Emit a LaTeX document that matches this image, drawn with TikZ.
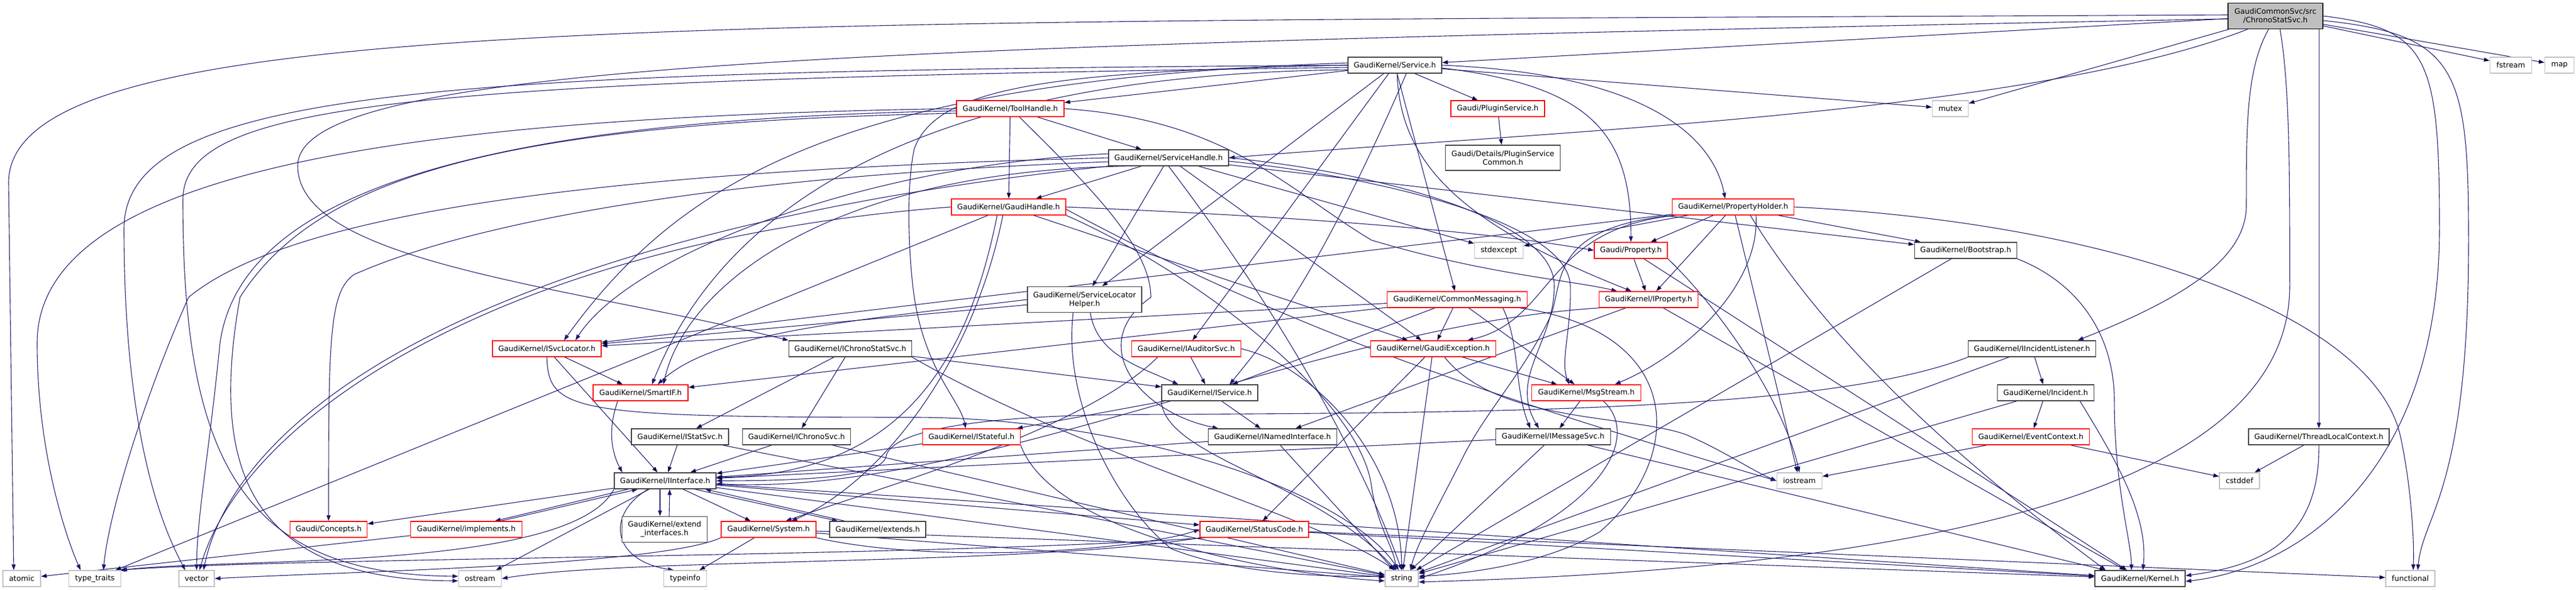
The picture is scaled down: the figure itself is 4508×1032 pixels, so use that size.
\documentclass[tikz,border=0pt]{standalone}
\usepackage{fontspec}
\setmainfont{DejaVu Sans}
\usetikzlibrary{arrows.meta}
\pgfdeclarelayer{bg}
\pgfsetlayers{bg,main}

\definecolor{edgeblue}{HTML}{191970}
\definecolor{hdrred}{HTML}{FF0000}
\definecolor{hdrgray}{HTML}{BFBFBF}
\definecolor{hdrdark}{HTML}{404040}

\tikzset{
  hdr/.style={draw=hdrdark, line width=1.4pt, fill=white, inner sep=0pt,
    minimum height=28pt, align=center, font=\fontsize{13}{15}\selectfont},
  hdrtrunc/.style={hdr, draw=hdrred},
  hdrsys/.style={hdr, draw=hdrgray},
  rootnode/.style={hdr, draw=black, fill=hdrgray},
  incl/.style={draw=edgeblue, line width=1.1pt, -{Triangle[length=10pt,width=7pt]}},
}

\begin{document}
\begin{tikzpicture}[x=1pt,y=-1pt]
\useasboundingbox (0,0) rectangle (4508,1032);

% The file itself
\node[rootnode, minimum width=166pt, minimum height=45pt] (root) at (3982,28) {GaudiCommonSvc/src\\/ChronoStatSvc.h};

% Rank 2 and 3
\node[hdr, minimum width=164pt] (service) at (2441,114) {GaudiKernel/Service.h};
\node[hdrsys, minimum width=73pt] (fstream) at (4394,114) {fstream};
\node[hdrsys, minimum width=51pt] (map) at (4479,114) {map};
\node[hdrtrunc, minimum width=188pt] (toolh) at (1768,190) {GaudiKernel/ToolHandle.h};
\node[hdrtrunc, minimum width=164pt] (plugin) at (2621,190) {Gaudi/PluginService.h};
\node[hdrsys, minimum width=63pt] (mutex) at (3413,190) {mutex};

% Handles and properties
\node[hdr, minimum width=210pt] (svch) at (2045,276) {GaudiKernel/ServiceHandle.h};
\node[hdr, minimum width=201pt, minimum height=44pt] (plugcom) at (2630,276) {Gaudi/Details/PluginService\\Common.h};
\node[hdrtrunc, minimum width=200pt] (gaudih) at (1765,362) {GaudiKernel/GaudiHandle.h};
\node[hdrtrunc, minimum width=213pt] (propholder) at (3033,362) {GaudiKernel/PropertyHolder.h};
\node[hdrsys, minimum width=85pt] (stdexcept) at (2623,438) {stdexcept};
\node[hdrtrunc, minimum width=128pt] (prop) at (2854,438) {Gaudi/Property.h};
\node[hdr, minimum width=179pt] (boot) at (3440,438) {GaudiKernel/Bootstrap.h};
\node[hdr, minimum width=200pt, minimum height=45pt] (slh) at (1898,524) {GaudiKernel/ServiceLocator\\Helper.h};
\node[hdrtrunc, minimum width=245pt] (commsg) at (2550,524) {GaudiKernel/CommonMessaging.h};
\node[hdrtrunc, minimum width=173pt] (iprop) at (2885,524) {GaudiKernel/IProperty.h};

% Interfaces
\node[hdrtrunc, minimum width=190pt] (isvcloc) at (957,610) {GaudiKernel/ISvcLocator.h};
\node[hdr, minimum width=215pt] (ichronostat) at (1488,610) {GaudiKernel/IChronoStatSvc.h};
\node[hdrtrunc, minimum width=191pt] (iaud) at (2076,610) {GaudiKernel/IAuditorSvc.h};
\node[hdrtrunc, minimum width=219pt] (gexc) at (2508,610) {GaudiKernel/GaudiException.h};
\node[hdr, minimum width=223pt] (iinclist) at (3556,610) {GaudiKernel/IIncidentListener.h};
\node[hdrtrunc, minimum width=166pt] (smartif) at (1121,687) {GaudiKernel/SmartIF.h};
\node[hdr, minimum width=168pt] (iservice) at (2117,687) {GaudiKernel/IService.h};
\node[hdrtrunc, minimum width=191pt] (msgstream) at (2776,687) {GaudiKernel/MsgStream.h};
\node[hdr, minimum width=169pt] (incident) at (3580,687) {GaudiKernel/Incident.h};
\node[hdr, minimum width=170pt] (istat) at (1190,764) {GaudiKernel/IStatSvc.h};
\node[hdr, minimum width=189pt] (ichrono) at (1394,764) {GaudiKernel/IChronoSvc.h};
\node[hdrtrunc, minimum width=171pt] (istateful) at (1700,764) {GaudiKernel/IStateful.h};
\node[hdr, minimum width=225pt] (inamed) at (2227,764) {GaudiKernel/INamedInterface.h};
\node[hdr, minimum width=201pt] (imsgsvc) at (2718,764) {GaudiKernel/IMessageSvc.h};
\node[hdrtrunc, minimum width=205pt] (evtctx) at (3554,764) {GaudiKernel/EventContext.h};
\node[hdr, minimum width=246pt] (tlc) at (4058,764) {GaudiKernel/ThreadLocalContext.h};
\node[hdr, minimum width=178pt] (iiface) at (1164,841) {GaudiKernel/IInterface.h};
\node[hdrsys, minimum width=79pt] (iostream) at (3149,841) {iostream};
\node[hdrsys, minimum width=70pt] (cstddef) at (3919,841) {cstddef};

% Bottom ranks
\node[hdrtrunc, minimum width=135pt] (concepts) at (575,926) {Gaudi/Concepts.h};
\node[hdrtrunc, minimum width=195pt] (implements) at (816,926) {GaudiKernel/implements.h};
\node[hdr, minimum width=149pt, minimum height=45pt] (extif) at (1163,926) {GaudiKernel/extend\\\_interfaces.h};
\node[hdrtrunc, minimum width=166pt] (system) at (1345,926) {GaudiKernel/System.h};
\node[hdr, minimum width=168pt] (extends) at (1536,926) {GaudiKernel/extends.h};
\node[hdrtrunc, minimum width=190pt] (statuscode) at (2195,926) {GaudiKernel/StatusCode.h};
\node[hdrsys, minimum width=66pt] (atomic) at (38,1012) {atomic};
\node[hdrsys, minimum width=91pt] (typetraits) at (166,1012) {type\_traits};
\node[hdrsys, minimum width=62pt] (vector) at (344,1012) {vector};
\node[hdrsys, minimum width=75pt] (ostream) at (840,1012) {ostream};
\node[hdrsys, minimum width=75pt] (typeinfo) at (1199,1012) {typeinfo};
\node[hdrsys, minimum width=58pt] (string) at (2453,1012) {string};
\node[hdr, minimum width=158pt] (kernel) at (3745,1012) {GaudiKernel/Kernel.h};
\node[hdrsys, minimum width=86pt] (functional) at (4218,1012) {functional};

\begin{pgfonlayer}{bg}
\fill[white] (0,0) rectangle (4508,1032);

% Includes of the file itself
\draw[incl] ([yshift=2pt]root.west) .. controls (1200,40) and (15,20) .. (15,320) -- ([xshift=-14pt]atomic.north);
\draw[incl] ([yshift=-5pt]root.west) .. controls (1500,80) and (521,110) .. (521,290) .. controls (521,460) and (1000,500) .. (ichronostat.north west);
\draw[incl] (root.east) .. controls (4250,50) and (4269,100) .. (4269,400) .. controls (4269,800) and (4050,990) .. ([yshift=-5pt]kernel.east);
\draw[incl] ([yshift=-8pt]root.east) .. controls (4300,60) and (4320,120) .. (4320,420) .. controls (4320,860) and (4240,900) .. ([xshift=13pt]functional.north);
\draw[incl] ([xshift=8pt]root.south) .. controls (4007,150) and (4007,300) .. (4007,500) .. controls (4007,820) and (3500,990) .. ([yshift=-6pt]string.east);
\draw[incl] (root.south -| tlc.north) -- (tlc.north);
\draw[incl] ([xshift=-12pt]root.south) .. controls (3931,120) and (3931,220) .. (3931,360) .. controls (3931,460) and (3800,530) .. ([xshift=80pt]iinclist.north);
\draw[incl] ([xshift=35pt]root.south west) .. controls (3550,200) and (2700,230) .. (svch.east);
\path[incl] (root) edge (service) edge (fstream) edge (map) edge (mutex);

% Service.h
\path[incl] (service) edge (toolh) edge (plugin) edge (mutex) edge (commsg) edge (iaud) edge (slh);
\draw[incl] (service.west) .. controls (800,125) and (217,150) .. (217,400) .. controls (217,800) and (300,950) .. ([xshift=-20pt]vector.north);
\draw[incl] ([yshift=-4pt]service.west) .. controls (700,140) and (320,180) .. (320,350) .. controls (320,800) and (420,1005) .. ([yshift=4pt]ostream.west);
\draw[incl] (service.east) .. controls (2900,130) and (3000,250) .. ([xshift=-14pt]propholder.north);
\draw[incl] ([yshift=-5pt]service.east) .. controls (2780,150) and (2855,230) .. (prop.north);
\draw[incl] ([xshift=4pt]service.south) .. controls (2450,300) and (2580,400) .. ([xshift=-30pt]iprop.north);
\draw[incl] ([xshift=20pt]service.south) .. controls (2300,500) and (2210,600) .. ([xshift=35pt]iservice.north);
\draw[incl] (service.west) .. controls (1850,125) and (1640,150) .. (1600,260) .. controls (1585,330) and (1590,450) .. (1600,520) .. controls (1620,650) and (1680,700) .. ([xshift=-10pt]istateful.north);
\draw[incl] ([yshift=4pt]service.west) .. controls (1500,140) and (1200,300) .. ([xshift=30pt]isvcloc.north);
\draw[incl] ([yshift=-8pt]service.west) .. controls (1550,130) and (1250,400) .. ([xshift=20pt]smartif.north);

% ToolHandle.h
\path[incl] (toolh) edge (svch) edge (gaudih);
\draw[incl] (toolh.west) .. controls (700,205) and (65,300) .. (65,600) .. controls (65,800) and (120,950) .. ([xshift=-25pt]typetraits.north);
\draw[incl] ([yshift=-4pt]toolh.west) .. controls (800,210) and (420,350) .. (385,600) .. controls (365,800) and (345,900) .. (vector.north);
\draw[incl] ([yshift=-8pt]toolh.west) .. controls (900,215) and (560,300) .. (420,520) .. controls (370,800) and (420,1015) .. ([yshift=-4pt]ostream.west);
\draw[incl] ([xshift=16pt]toolh.south) .. controls (1900,320) and (2014,430) .. (2014,520) .. controls (1900,600) and (1990,720) .. ([xshift=-95pt]inamed.north);
\draw[incl] (toolh.east) .. controls (2150,210) and (2250,330) .. (2400,420) .. controls (2600,480) and (2750,490) .. ([xshift=-55pt]iprop.north);

% ServiceHandle.h
\path[incl] (svch) edge (gaudih) edge (slh) edge (gexc) edge (boot) edge (stdexcept);
\draw[incl] (svch.west) .. controls (1000,300) and (500,380) .. (330,520) .. controls (250,700) and (190,900) .. ([xshift=15pt]typetraits.north);
\draw[incl] ([yshift=-7pt]svch.west) .. controls (1200,310) and (800,400) .. (620,480) .. controls (575,510) and (575,600) .. (concepts.north);
\draw[incl] (svch.south west) .. controls (900,400) and (420,700) .. ([xshift=12pt]vector.north);
\draw[incl] ([yshift=7pt]svch.west) .. controls (1500,290) and (1100,450) .. ([xshift=50pt]isvcloc.north);
\draw[incl] ([xshift=30pt]svch.south west) .. controls (1450,300) and (1200,500) .. ([xshift=40pt]smartif.north);
\draw[incl] (svch.east) .. controls (2400,300) and (2720,380) .. (2720,500) .. controls (2720,600) and (2640,660) .. ([xshift=-25pt]imsgsvc.north);
\draw[incl] ([yshift=-6pt]svch.east) .. controls (2420,310) and (2745,390) .. (2748,500) .. controls (2750,580) and (2730,630) .. ([xshift=-30pt]msgstream.north);
\draw[incl] (svch.south) .. controls (2280,600) and (2400,850) .. (string.north);

% GaudiHandle.h
\path[incl] (gaudih) edge (gexc) edge (typetraits);
\draw[incl] (gaudih.west) .. controls (900,420) and (430,720) .. ([xshift=5pt]vector.north);
\draw[incl] ([xshift=-20pt]gaudih.south) .. controls (1700,600) and (1600,830) .. ([yshift=6pt]iiface.east);
\draw[incl] ([xshift=-10pt]gaudih.south) .. controls (1700,650) and (1530,850) .. ([xshift=40pt]system.north);
\draw[incl] (gaudih.east) .. controls (2300,380) and (2600,405) .. (prop.west);
\draw[incl] (gaudih.south east) .. controls (2100,480) and (2380,700) .. (2400,850) .. controls (2410,920) and (2440,960) .. ([xshift=-10pt]string.north);
\draw[incl] ([yshift=-4pt]gaudih.east) .. controls (2300,600) and (2700,720) .. (iostream.west);

% PluginService.h
\path[incl] (plugin) edge (plugcom);

% PropertyHolder.h and Property.h
\path[incl] (propholder) edge (prop) edge (boot) edge (iprop) edge (isvcloc) edge (stdexcept) edge (iostream);
\draw[incl] (propholder.east) .. controls (3700,390) and (4150,550) .. (4200,760) .. controls (4220,850) and (4225,950) .. ([xshift=5pt]functional.north);
\draw[incl] ([xshift=-100pt]propholder.south) .. controls (2700,400) and (2720,560) .. ([xshift=60pt]gexc.north);
\draw[incl] ([xshift=40pt]propholder.south) .. controls (3080,500) and (2950,620) .. ([xshift=50pt]msgstream.north);
\draw[incl] ([xshift=-106pt]propholder.south) .. controls (2700,400) and (2740,500) .. (2710,560) .. controls (2660,660) and (2600,720) .. (2560,800) .. controls (2520,880) and (2480,950) .. ([xshift=15pt]string.north);
\draw[incl] ([xshift=30pt]propholder.south) .. controls (3200,600) and (3420,800) .. ([xshift=-60pt]kernel.north);
\path[incl] (prop) edge (iprop) edge (kernel);
\draw[incl] (prop.south east) .. controls (3010,540) and (3120,700) .. (iostream.north);
\path[incl] (iprop) edge (inamed) edge (kernel);
\draw[incl] (iprop.south west) .. controls (2300,570) and (1700,870) .. ([yshift=-5pt]iiface.east);

% CommonMessaging.h and ServiceLocatorHelper.h
\path[incl] (commsg) edge (gexc) edge (isvcloc) edge (msgstream) edge (smartif) edge (iservice);
\draw[incl] ([xshift=80pt]commsg.south) .. controls (2660,600) and (2650,680) .. ([xshift=-40pt]imsgsvc.north);
\draw[incl] ([xshift=110pt]commsg.south) .. controls (2950,580) and (2950,800) .. (2800,930) .. controls (2700,990) and (2550,1005) .. ([yshift=4pt]string.east);
\path[incl] (slh) edge (isvcloc);
\draw[incl] (slh.west) .. controls (1500,560) and (1250,580) .. ([xshift=30pt]smartif.north);
\draw[incl] ([xshift=10pt]slh.south) .. controls (1920,620) and (1990,640) .. ([xshift=-55pt]iservice.north);
\draw[incl] ([xshift=-20pt]slh.south) .. controls (1860,700) and (1950,880) .. (2050,960) .. controls (2150,1000) and (2300,1010) .. ([yshift=4pt]string.west);

% Service interfaces
\path[incl] (isvcloc) edge (iiface) edge (smartif);
\draw[incl] (isvcloc.south) .. controls (960,720) and (1000,730) .. (1600,730) .. controls (1950,730) and (2350,850) .. ([xshift=-5pt]string.north);
\path[incl] (ichronostat) edge (ichrono) edge (istat) edge (iservice);
\draw[incl] (ichronostat.south east) .. controls (1900,800) and (2300,900) .. ([xshift=-12pt]string.north);
\path[incl] (iaud) edge (iservice);
\draw[incl] ([xshift=-50pt]iaud.south) .. controls (1900,750) and (1550,850) .. ([xshift=30pt]system.north);
\draw[incl] (iaud.east) .. controls (2300,640) and (2450,800) .. (string.north);
\path[incl] (iservice) edge (inamed) edge (istateful);
\draw[incl] (iservice.south west) .. controls (2040,800) and (2300,840) .. ([xshift=-10pt]string.north);
\draw[incl] ([xshift=-40pt]smartif.south) .. controls (1060,760) and (1075,800) .. ([xshift=-75pt]iiface.north);
\path[incl] (istat) edge (iiface) edge (string);
\path[incl] (ichrono) edge (iiface) edge (string);
\path[incl] (istateful) edge (iiface);
\draw[incl] (istateful.south east) .. controls (1850,950) and (2300,1010) .. ([yshift=-4pt]string.west);
\path[incl] (inamed) edge (iiface) edge (string);

% Incidents and contexts
\path[incl] (iinclist) edge (incident) edge (string);
\draw[incl] (iinclist.south west) .. controls (3200,720) and (2600,722) .. (2000,725) .. controls (1800,725) and (1560,740) .. (1550,800) .. controls (1540,835) and (1400,841) .. (iiface.east);
\path[incl] (incident) edge (evtctx) edge (string);
\draw[incl] ([xshift=60pt]incident.south) .. controls (3700,800) and (3760,900) .. ([xshift=5pt]kernel.north);
\path[incl] (evtctx) edge (iostream) edge (cstddef);
\path[incl] (tlc) edge (cstddef);
\draw[incl] (tlc.south) .. controls (4060,950) and (3950,990) .. ([yshift=5pt]kernel.east);
\path[incl] (boot) edge (string);
\draw[incl] (boot.south east) .. controls (3650,500) and (3700,600) .. (3700,700) .. controls (3700,850) and (3730,950) .. ([xshift=-15pt]kernel.north);

% Messaging
\path[incl] (gexc) edge (statuscode) edge (msgstream) edge (string);
\draw[incl] ([xshift=20pt]gexc.south) .. controls (2620,740) and (2850,725) .. (2950,760) .. controls (3020,790) and (3060,820) .. (iostream.west);
\path[incl] (msgstream) edge (imsgsvc);
\draw[incl] ([xshift=30pt]msgstream.south) .. controls (2870,760) and (2820,900) .. (string.east);
\path[incl] (imsgsvc) edge (iiface) edge (kernel) edge (string);

% IInterface and the bottom rank
\path[incl] (iiface) edge (system) edge (ostream) edge (kernel) edge (statuscode) edge (string) edge (concepts);
\draw[incl] ([xshift=-30pt]iiface.south) .. controls (1060,900) and (1070,980) .. ([xshift=-20pt]typeinfo.north);
\draw[incl] (iiface.south west) .. controls (1000,1000) and (400,975) .. (typetraits.north east);
\draw[incl] ([xshift=-9pt]iiface.south) -- ([xshift=-8pt]extif.north);
\draw[incl] ([xshift=8pt]extif.north) -- ([xshift=8pt]iiface.south);
\draw[incl] ([xshift=-65pt]iiface.south) -- ([xshift=50pt]implements.north);
\draw[incl] ([xshift=60pt]implements.north) -- ([xshift=-48pt]iiface.south);
\draw[incl] ([xshift=52pt]iiface.south) -- ([xshift=-70pt]extends.north);
\draw[incl] ([xshift=-58pt]extends.north) -- ([xshift=70pt]iiface.south);
\path[incl] (implements) edge (atomic);
\path[incl] (system) edge (typeinfo) edge (kernel) edge (string);
\draw[incl] (system.south west) .. controls (1150,990) and (600,1000) .. (vector.east);
\draw[incl] (system.south east) .. controls (1650,990) and (2000,960) .. (statuscode.west);
\path[incl] (statuscode) edge (kernel) edge (functional);
\draw[incl] (statuscode.south west) .. controls (1800,990) and (1100,975) .. (ostream.east);
\draw[incl] ([xshift=10pt]statuscode.south west) .. controls (1600,975) and (500,975) .. ([xshift=-3pt]typetraits.north east);
\end{pgfonlayer}
\end{tikzpicture}
\end{document}
